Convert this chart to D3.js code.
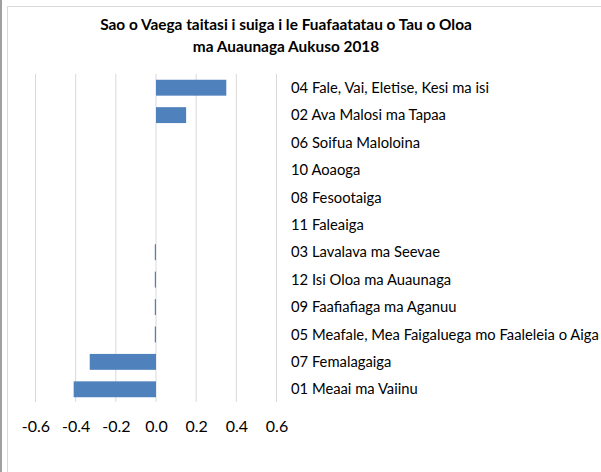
<!DOCTYPE html>
<html>
<head>
<meta charset="utf-8">
<script src="https://cdn.jsdelivr.net/npm/d3@7"></script>
<style>
  body { margin: 0; background: #fff; }
  svg { display: block; }
</style>
</head>
<body>
<svg id="chart" width="601" height="472"></svg>
<script>
// categories top to bottom
const categories = [
  '04 Fale, Vai, Eletise, Kesi ma isi',
  '02 Ava Malosi ma Tapaa',
  '06 Soifua Maloloina',
  '10 Aoaoga',
  '08 Fesootaiga',
  '11 Faleaiga',
  '03 Lavalava ma Seevae',
  '12 Isi Oloa ma Auaunaga',
  '09 Faafiafiaga ma Aganuu',
  '05 Meafale, Mea Faigaluega mo Faaleleia o Aiga',
  '07 Femalagaiga',
  '01 Meaai ma Vaiinu'
];
const values = [0.35, 0.15, 0, 0, 0, 0, -0.006, -0.006, -0.006, -0.006, -0.33, -0.41];
const xTicks = [-0.6, -0.4, -0.2, 0.0, 0.2, 0.4, 0.6];
const titleLines = ['Sao o Vaega taitasi i suiga i le Fuafaatatau o Tau o Oloa',
                    'ma Auaunaga  Aukuso 2018'];

const font = 'Lato, "Open Sans", sans-serif';
const svg = d3.select('#chart');

// fit font size so a text sample gets the width seen in the picture
function fitSize(sel, target) {
  const w = d3.max(sel.nodes(), n => n.getComputedTextLength());
  const fs = parseFloat(sel.attr('font-size'));
  sel.attr('font-size', fs * target / w);
}

// spreadsheet edge + chart border
svg.append('rect').attr('x', 0).attr('y', 0).attr('width', 2).attr('height', 472).attr('fill', '#a0a0a0');
svg.append('rect').attr('x', 7.5).attr('y', 6.5).attr('width', 600).attr('height', 470)
  .attr('fill', 'none').attr('stroke', '#d9d9d9');

const x = d3.scaleLinear().domain([-0.6, 0.6]).range([35.5, 276.5]);
const y = d3.scaleBand().domain(categories).range([74, 403]).paddingInner(0.42).paddingOuter(0.21);

// gridlines
svg.append('g').selectAll('line').data(xTicks).join('line')
  .attr('x1', d => x(d)).attr('x2', d => x(d))
  .attr('y1', 74).attr('y2', 402)
  .attr('stroke', '#d9d9d9').attr('stroke-width', 1);

// bars
svg.append('g').selectAll('rect').data(values).join('rect')
  .attr('x', d => x(Math.min(0, d)))
  .attr('width', d => Math.abs(x(d) - x(0)))
  .attr('y', (d, i) => y(categories[i]))
  .attr('height', y.bandwidth())
  .attr('fill', '#4f81bd');

// category labels on the right
const labels = svg.append('g').selectAll('text').data(categories).join('text')
  .attr('x', 291)
  .attr('y', d => y(d) + y.bandwidth() / 2)
  .attr('dy', '0.35em')
  .attr('font-family', font).attr('font-size', 12.5).attr('fill', '#000')
  .text(d => d);
fitSize(labels, 308);

// x axis tick labels
const axis = d3.axisBottom(x).tickValues(xTicks).tickFormat(d3.format('.1f')).tickSize(0).tickPadding(0);
const gx = svg.append('g').attr('transform', 'translate(0,421)').call(axis);
gx.select('.domain').remove();
gx.selectAll('text').attr('font-family', font).attr('font-size', 16).attr('fill', '#000')
  .text(d => d3.format('.1f')(d).replace('−', '-'));

// title
const title = svg.append('g').selectAll('text').data(titleLines).join('text')
  .attr('x', 286).attr('y', (d, i) => 30 + i * 22)
  .attr('text-anchor', 'middle')
  .attr('font-family', font).attr('font-size', 14).attr('font-weight', 'bold').attr('fill', '#000')
  .text(d => d);
fitSize(title, 372);
</script>
</body>
</html>
